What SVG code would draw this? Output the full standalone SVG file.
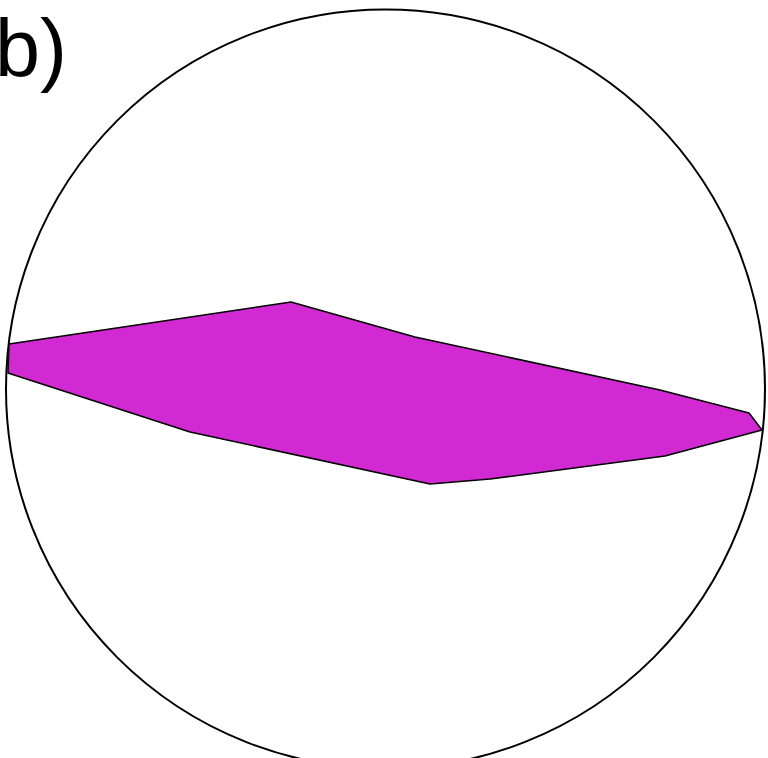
<svg xmlns="http://www.w3.org/2000/svg" width="768" height="758" viewBox="0 0 768 758">
<style>
.lbl{font-family:"Liberation Sans",Arial,sans-serif;font-size:81px;fill:#000}
</style>
<rect width="768" height="758" fill="#fff"/>
<g id="sphere">
<circle cx="385.5" cy="389" r="379.5" fill="none" stroke="#000" stroke-width="2"/>
</g>
<g id="plane">
<polygon points="9,344 291,302 415,337 660,390 749,413 762,430 665,456 490,479 430,484 190,432 8,373" fill="#d22ad2" stroke="#000" stroke-width="1.5" stroke-linejoin="round"/>
</g>
<text class="lbl" x="-5" y="76">b)</text>
</svg>
